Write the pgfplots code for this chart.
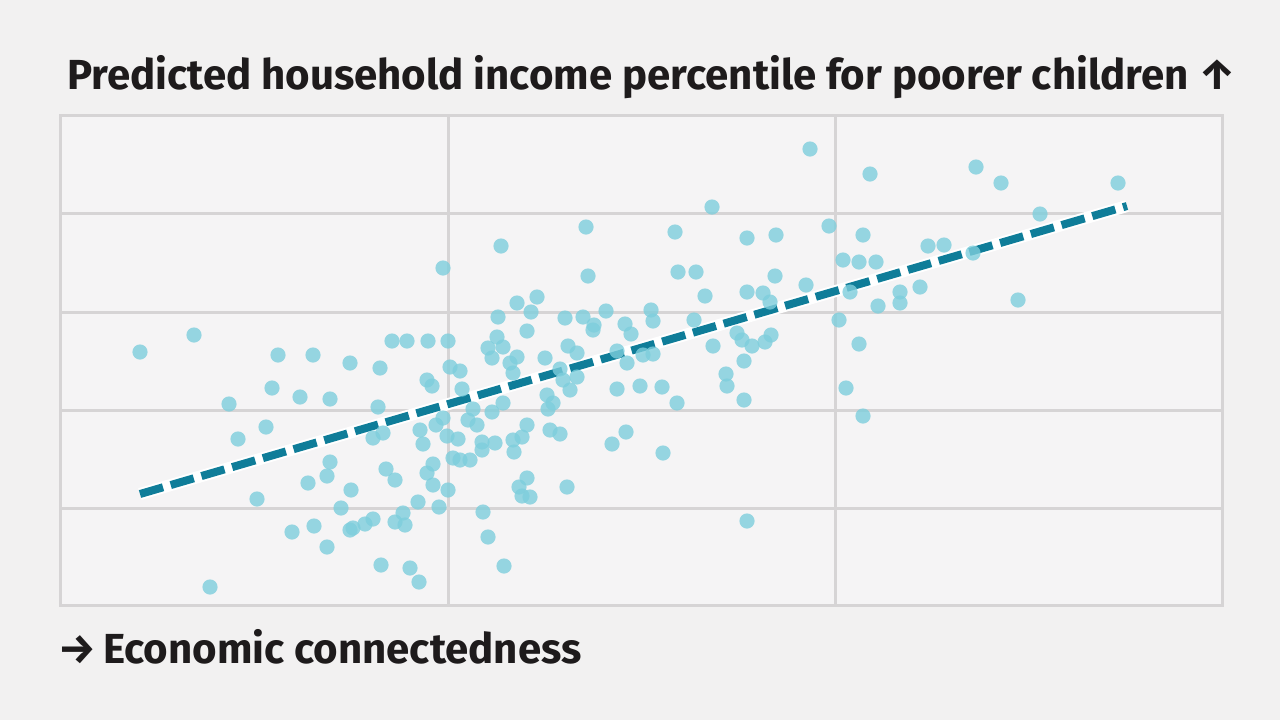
\documentclass[border=0pt]{standalone}
\usepackage{fontspec}
\setmainfont{Fira Sans}
\usepackage{pgfplots}
\pgfplotsset{compat=1.18}
\definecolor{bg}{HTML}{F2F1F1}
\definecolor{plotbg}{HTML}{F5F4F5}
\definecolor{gridc}{HTML}{D6D4D5}
\definecolor{dotc}{HTML}{7ECEDC}
\definecolor{linec}{HTML}{0F7D99}
\definecolor{txt}{HTML}{1E1B1C}
\pgfplotstableread{
x y
140 352
194 335
210 587
229 404
238 439
257 499
266 427
272 388
278 355
292 532
300 397
308 483
313 355
314 526
327 547
327 476
330 399
330 462
341 508
350 363
350 530
351 490
353 528
365 524
373 519
373 438
378 407
380 368
381 565
383 433
386 469
392 341
395 480
395 522
403 513
405 525
407 341
410 568
418 502
419 582
420 430
423 444
427 380
427 473
428 341
432 386
433 464
433 485
436 425
439 507
443 268
443 418
447 436
448 341
448 490
450 367
453 458
460 371
458 439
460 460
462 389
468 420
470 460
473 409
477 425
482 442
482 450
483 512
488 537
488 348
492 358
492 412
495 443
497 337
498 317
501 246
503 347
503 403
504 566
510 363
513 373
513 440
514 452
517 303
517 357
519 487
522 437
522 496
527 425
527 478
527 331
530 497
531 312
537 297
545 358
547 395
548 409
550 430
553 403
560 434
560 369
563 380
565 318
567 487
568 346
570 390
577 353
577 377
583 317
586 227
588 276
593 330
594 325
606 311
612 444
617 351
617 389
625 324
626 432
627 363
631 334
640 386
643 355
651 310
653 321
653 354
662 387
663 453
675 232
677 403
678 272
694 320
696 272
705 296
712 207
713 346
726 374
727 386
737 333
742 340
744 361
744 400
747 238
747 292
747 521
752 346
763 293
765 342
770 302
771 335
775 276
776 235
806 285
810 149
829 226
839 320
843 260
846 388
850 292
859 262
859 344
863 235
863 416
870 174
876 262
878 306
900 292
900 303
920 287
928 246
944 245
973 253
976 167
1001 183
1018 300
1040 214
1118 183
}\dotdata
\pgfplotstableread{
x y
140 494
1127 206
}\trenddata
\begin{document}
\begin{tikzpicture}
\fill[bg] (0,0) rectangle (640pt,360pt);
\useasboundingbox (0,0) rectangle (640pt,360pt);
\begin{axis}[
  at={(30pt,57.5pt)}, anchor=south west,
  scale only axis, width=581pt, height=245pt,
  xmin=60, xmax=1222, ymin=115, ymax=605, y dir=reverse,
  axis background/.style={fill=plotbg},
  axis line style={gridc, line width=1.5pt},
  xtick={448,835}, ytick={213,312,410,508},
  xticklabels={}, yticklabels={},
  major tick length=0pt,
  grid=major, major grid style={gridc, line width=1.5pt},
]
\addplot[color=dotc, only marks, mark=*, mark size=3.8pt,
  mark options={solid, draw=dotc, fill=dotc, draw opacity=0, fill opacity=0.8}] table[x=x,y=y] {\dotdata};
\addplot[white, line width=6pt, line cap=butt] table[x=x,y=y] {\trenddata};
\addplot[linec, line width=4pt, line cap=butt, dash pattern=on 12pt off 4pt] table[x=x,y=y] {\trenddata};
\end{axis}
\node[anchor=base west, inner sep=0pt, text=txt] at (33.5pt,315.5pt)
  {\bfseries\fontsize{21}{25}\selectfont Predicted household income percentile for poorer children ↑};
\node[anchor=base west, inner sep=0pt, text=txt] at (29pt,28.5pt)
  {\bfseries\fontsize{21}{25}\selectfont →\,Economic connectedness};
\end{tikzpicture}
\end{document}
